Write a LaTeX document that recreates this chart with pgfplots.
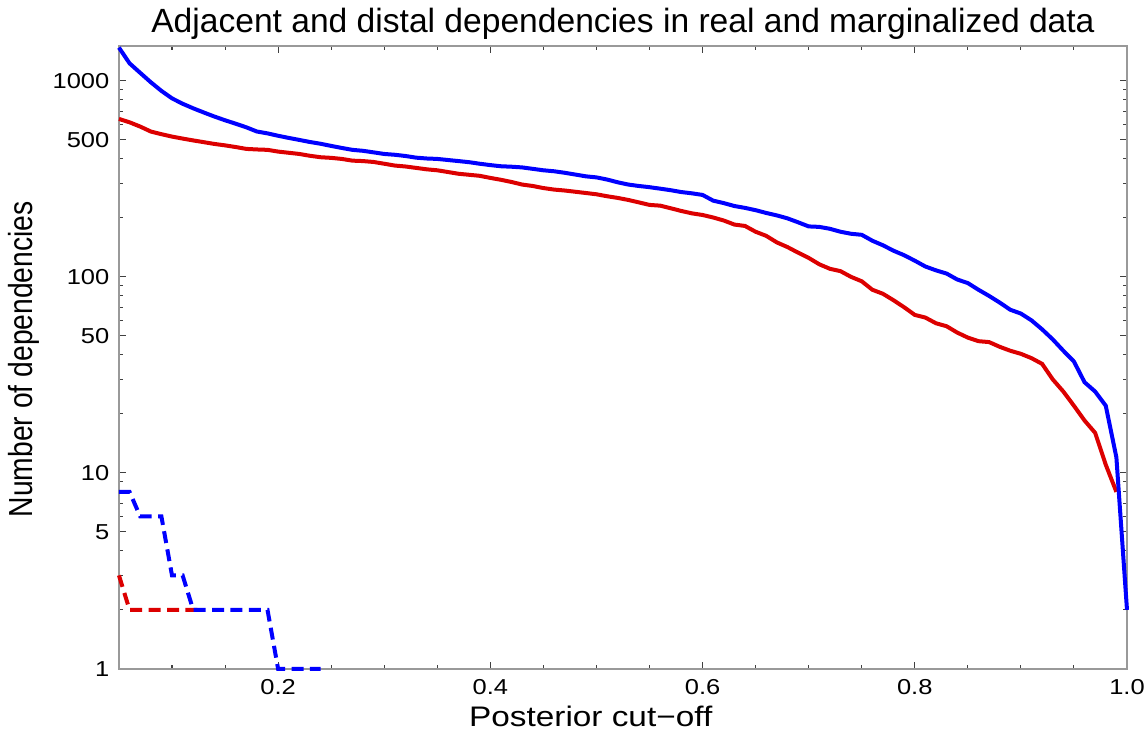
\documentclass[border=0pt]{standalone}
\usepackage{fontspec}
\setmainfont{Liberation Sans}[FakeStretch=1.18]
\newfontfamily\plainsans{Liberation Sans}
\usepackage{graphicx}
\usepackage{pgfplots}
\pgfplotsset{compat=1.18}

\definecolor{mred}{RGB}{220,0,0}
\definecolor{mblue}{RGB}{0,0,255}

% posterior cut-off vs. number of dependencies
\pgfplotstableread{
x     real  marg
0.05  1480  640
0.06  1230  615
0.07  1100  585
0.08  985   552
0.09  890   535
0.10  815   520
0.11  765   508
0.12  725   497
0.13  690   487
0.14  658   477
0.15  630   469
0.16  605   460
0.17  580   450
0.18  552   447
0.19  540   445
0.20  525   436
0.21  512   430
0.22  500   424
0.23  488   415
0.24  478   408
0.25  466   405
0.26  455   400
0.27  445   392
0.28  440   390
0.29  432   386
0.30  424   378
0.31  420   370
0.32  414   366
0.33  406   360
0.34  402   354
0.35  400   350
0.36  395   343
0.37  390   336
0.38  385   332
0.39  378   328
0.40  372   320
0.41  367   313
0.42  365   305
0.43  362   296
0.44  356   291
0.45  350   284
0.46  346   279
0.47  340   276
0.48  333   272
0.49  326   268
0.50  322   264
0.51  314   258
0.52  304   253
0.53  296   247
0.54  291   240
0.55  287   233
0.56  282   231
0.57  277   224
0.58  271   217
0.59  267   211
0.60  262   207
0.61  245   201
0.62  238   194
0.63  230   185
0.64  225   182
0.65  219   170
0.66  212   162
0.67  206   150
0.68  199   142
0.69  190   133
0.70  181   125
0.71  180   116
0.72  176   110
0.73  170   107
0.74  166   100
0.75  164   95
0.76  153   86
0.77  145   82
0.78  136   76
0.79  129   70
0.80  121   64
0.81  113   62
0.82  108   58
0.83  104   56
0.84  97    52
0.85  93    49
0.86  86    47
0.87  80    46.5
0.88  74    44
0.89  68    42
0.90  65    40.5
0.91  60    38.5
0.92  54    36
0.93  48    30
0.94  42    26
0.95  37    22
0.96  29    18.5
0.97  26    16
0.98  22    11
0.99  12    8
1.00  2     nan
}\solid

\pgfplotstableread{
x     real
0.05  8
0.06  8
0.07  6
0.08  6
0.09  6
0.10  3
0.11  3
0.12  2
0.13  2
0.14  2
0.15  2
0.16  2
0.17  2
0.18  2
0.19  2
0.20  1
0.21  1
0.22  1
0.23  1
0.24  1
}\distblue

\pgfplotstableread{
x     marg
0.05  3
0.06  2
0.07  2
0.08  2
0.09  2
0.10  2
0.11  2
0.12  2
0.13  2
}\distred

\begin{document}
\begin{tikzpicture}
\path[use as bounding box] (-44.6pt,-25.9pt) rectangle (385.5pt,250.8pt);
\begin{axis}[
  at={(0,0)}, anchor=south west,
  scale only axis,
  width=378pt, height=233.6pt,
  ymode=log,
  xmin=0.05, xmax=1.0,
  ymin=1, ymax=1510,
  clip=false,
  axis line style={black!40, line width=0.5pt},
  tick style={black!75, line width=0.4pt},
  major tick length=2.6pt,
  minor tick length=1.5pt,
  tick align=inside,
  xtick={0.2,0.4,0.6,0.8,1.0},
  xticklabels={0.2,0.4,0.6,0.8,1.0},
  minor xtick={0.1,0.15,0.25,0.3,0.35,0.45,0.5,0.55,0.65,0.7,0.75,0.85,0.9,0.95},
  ytick={1,5,10,50,100,500,1000},
  yticklabels={1,5,10,50,100,500,1000},
  minor ytick={2,3,4,6,7,8,9,20,30,40,60,70,80,90,200,300,400,600,700,800,900},
  /pgf/number format/assume math mode=true,
  tick label style={font=\fontsize{8.1}{10}\selectfont},
  xticklabel style={inner sep=3.6pt},
  yticklabel style={inner sep=3.4pt},
  label style={font=\fontsize{10.6}{12}\selectfont},
  xlabel={Posterior cut−off},
  xlabel style={at={(axis description cs:0.468,-0.093)}, anchor=base},
  ylabel={\plainsans\scalebox{1}[1.18]{Number of dependencies}},
  ylabel style={at={(axis description cs:-0.086,0.497)}, anchor=base, rotate=0},
]
\addplot[mred, line width=1.5pt] table[x=x, y=marg] {\solid};
\addplot[mblue, line width=1.5pt] table[x=x, y=real] {\solid};
\addplot[mred, line width=1.5pt, dash pattern=on 4.5pt off 2.4pt] table[x=x, y=marg] {\distred};
\addplot[mblue, line width=1.5pt, dash pattern=on 4.5pt off 2.4pt] table[x=x, y=real] {\distblue};
\end{axis}
\node[anchor=base, inner sep=0pt, font=\plainsans\fontsize{12.6}{14}\selectfont] at (189pt,238.5pt)
  {Adjacent and distal dependencies in real and marginalized data};
\end{tikzpicture}
\end{document}
